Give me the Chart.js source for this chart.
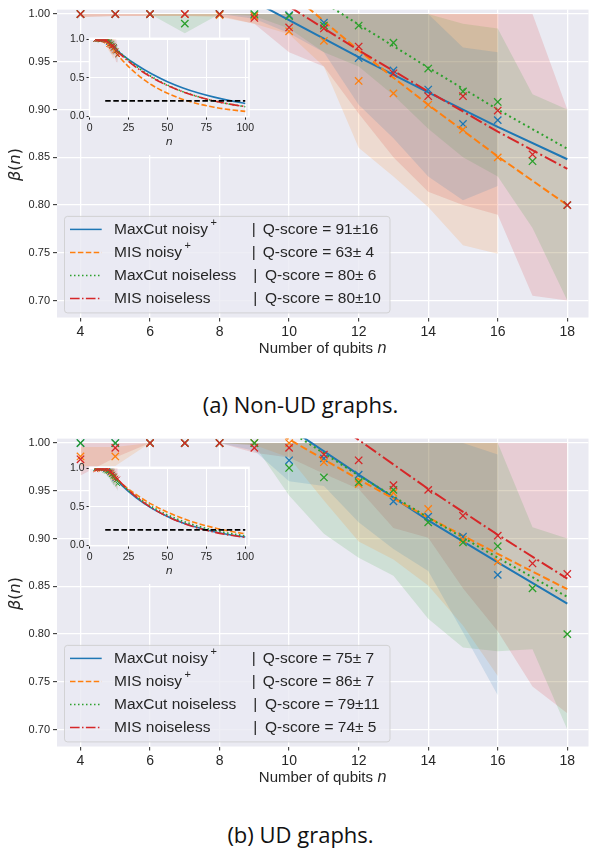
<!DOCTYPE html>
<html>
<head>
<meta charset="utf-8">
<script src="https://cdn.jsdelivr.net/npm/chart.js@4.4.1/dist/chart.umd.min.js"></script>
<style>
  html, body { margin: 0; padding: 0; background: #fff; }
  body { width: 595px; height: 848px; position: relative; overflow: hidden; }
  canvas { position: absolute; }
  .cap { position: absolute; left: 0; width: 601px; text-align: center; font-family: 'Open Sans', sans-serif;
         font-size: 22px; line-height: 30px; color: #111; }
</style>
</head>
<body>
<canvas id="mainA" width="595" height="370" style="left:0px;top:0px"></canvas>
<canvas id="insetA" width="225" height="130" style="left:40px;top:25px"></canvas>
<div class="cap" style="top:389px">(a) Non-UD graphs.</div>
<canvas id="mainB" width="595" height="370" style="left:0px;top:429px"></canvas>
<canvas id="insetB" width="225" height="130" style="left:40px;top:454px"></canvas>
<div class="cap" style="top:819px">(b) UD graphs.</div>
<script>
// ---- axis ticks ----
const xTicks = [4, 6, 8, 10, 12, 14, 16, 18];
const yTicks = [0.70, 0.75, 0.80, 0.85, 0.90, 0.95, 1.00];
const insetXTicks = [0, 25, 50, 75, 100];
const insetYTicks = [0.0, 0.5, 1.0];

// ---- legend ----
const seriesNames = ['MaxCut noisy', 'MIS noisy', 'MaxCut noiseless', 'MIS noiseless'];
const seriesSup = ['+', '+', '', ''];
const qScoresA = ['91\u00b116', '63\u00b1 4', '80\u00b1 6', '80\u00b110'];
const qScoresB = ['75\u00b1 7', '86\u00b1 7', '79\u00b111', '74\u00b1 5'];

// ---- qubit counts ----
const nNoisy = [4, 5, 6, 7, 8, 9, 10, 11, 12, 13, 14, 15, 16];
const nNoiseless = [4, 5, 6, 7, 8, 9, 10, 11, 12, 13, 14, 15, 16, 17, 18];

// ---- (a) Non-UD graphs ----
const aMaxCutNoisy   = [1.000, 1.000, 1.000, 1.000, 1.000, 0.999, 0.999, 0.991, 0.954, 0.941, 0.921, 0.885, 0.889];
const aMaxCutNoisyLo = [1.000, 1.000, 1.000, 1.000, 1.000, 0.995, 0.980, 0.960, 0.905, 0.870, 0.830, 0.805, 0.820];
const aMaxCutNoisyHi = [1.000, 1.000, 1.000, 1.000, 1.000, 1.000, 1.000, 1.000, 1.000, 1.000, 1.000, 0.965, 0.960];
const aMisNoisy      = [1.000, 1.000, 1.000, 1.000, 0.999, 0.998, 0.982, 0.972, 0.930, 0.917, 0.905, 0.879, 0.850];
const aMisNoisyLo    = [0.997, 0.998, 0.998, 0.998, 0.997, 0.990, 0.979, 0.945, 0.860, 0.830, 0.798, 0.758, 0.749];
const aMisNoisyHi    = [1.000, 1.000, 1.000, 1.000, 1.000, 1.000, 1.000, 1.000, 1.000, 1.000, 1.000, 1.000, 1.000];
const aMaxCutNoiseless   = [1.000, 1.000, 1.000, 0.990, 1.000, 1.000, 0.998, 0.988, 0.988, 0.970, 0.943, 0.919, 0.908, 0.846, 0.800];
const aMaxCutNoiselessLo = [1.000, 1.000, 1.000, 0.980, 1.000, 0.998, 0.985, 0.960, 0.945, 0.915, 0.880, 0.850, 0.830, 0.776, 0.700];
const aMaxCutNoiselessHi = [1.000, 1.000, 1.000, 1.000, 1.000, 1.000, 1.000, 1.000, 1.000, 1.000, 1.000, 0.990, 0.985, 0.916, 0.900];
const aMisNoiseless   = [1.000, 1.000, 1.000, 1.000, 1.000, 0.996, 0.986, 0.985, 0.966, 0.938, 0.914, 0.914, 0.899, 0.853, 0.800];
const aMisNoiselessLo = [0.997, 0.998, 0.998, 0.998, 0.998, 0.990, 0.960, 0.945, 0.896, 0.850, 0.814, 0.800, 0.790, 0.705, 0.700];
const aMisNoiselessHi = [1.000, 1.000, 1.000, 1.000, 1.000, 1.000, 1.000, 1.000, 1.000, 1.000, 1.000, 1.000, 1.000, 1.000, 0.900];

// fitted lines (main plot)
const aFitMaxCutNoisyN = [9.0, 12, 14, 16, 18];
const aFitMaxCutNoisy  = [1.013, 0.955, 0.918, 0.882, 0.848];
const aFitMisNoisyN = [10.3, 12, 14, 16, 18];
const aFitMisNoisy  = [1.014, 0.962, 0.905, 0.851, 0.800];
const aFitMaxCutNoiselessN = [11.0, 12, 14, 16, 18];
const aFitMaxCutNoiseless  = [1.012, 0.989, 0.944, 0.900, 0.859];
const aFitMisNoiselessN = [10.0, 12, 14, 16, 18];
const aFitMisNoiseless  = [1.008, 0.962, 0.919, 0.877, 0.838];

// extrapolated curves (inset)
const aCurveMaxCutNoisyN = [9.7, 20, 30, 40, 50, 60, 70, 80, 90, 100];
const aCurveMaxCutNoisy  = [1.000, 0.815, 0.669, 0.549, 0.450, 0.369, 0.303, 0.249, 0.204, 0.167];
const aCurveMisNoisyN = [10.8, 20, 30, 40, 50, 60, 70, 80, 90, 100];
const aCurveMisNoisy  = [1.000, 0.752, 0.553, 0.406, 0.299, 0.219, 0.161, 0.118, 0.087, 0.064];
const aCurveMaxCutNoiselessN = [11.5, 20, 30, 40, 50, 60, 70, 80, 90, 100];
const aCurveMaxCutNoiseless  = [1.000, 0.820, 0.648, 0.512, 0.405, 0.320, 0.253, 0.200, 0.158, 0.125];
const aCurveMisNoiselessN = [10.3, 20, 30, 40, 50, 60, 70, 80, 90, 100];
const aCurveMisNoiseless  = [1.000, 0.800, 0.635, 0.504, 0.400, 0.318, 0.252, 0.200, 0.159, 0.126];

// ---- (b) UD graphs ----
const bMaxCutNoisy   = [1.000, 1.000, 1.000, 1.000, 1.000, 1.000, 0.982, 0.984, 0.967, 0.939, 0.923, 0.902, 0.862];
const bMaxCutNoisyLo = [1.000, 1.000, 1.000, 1.000, 1.000, 0.992, 0.960, 0.955, 0.917, 0.889, 0.866, 0.802, 0.736];
const bMaxCutNoisyHi = [1.000, 1.000, 1.000, 1.000, 1.000, 1.000, 1.000, 1.000, 1.000, 1.000, 1.000, 1.000, 0.988];
const bMisNoisy      = [0.986, 0.986, 1.000, 1.000, 1.000, 1.000, 1.000, 0.980, 0.957, 0.948, 0.931, 0.899, 0.876];
const bMisNoisyLo    = [0.976, 0.976, 1.000, 1.000, 1.000, 0.998, 0.985, 0.940, 0.897, 0.878, 0.851, 0.809, 0.756];
const bMisNoisyHi    = [0.996, 0.996, 1.000, 1.000, 1.000, 1.000, 1.000, 1.000, 1.000, 1.000, 1.000, 1.000, 1.000];
const bMaxCutNoiseless   = [1.000, 1.000, 1.000, 1.000, 1.000, 1.000, 0.974, 0.964, 0.959, 0.951, 0.917, 0.896, 0.892, 0.848, 0.800];
const bMaxCutNoiselessLo = [1.000, 1.000, 1.000, 1.000, 1.000, 0.998, 0.945, 0.905, 0.880, 0.861, 0.816, 0.786, 0.782, 0.784, 0.700];
const bMaxCutNoiselessHi = [1.000, 1.000, 1.000, 1.000, 1.000, 1.000, 1.000, 1.000, 1.000, 1.000, 1.000, 1.000, 1.000, 0.912, 0.900];
const bMisNoiseless   = [0.983, 0.995, 1.000, 1.000, 1.000, 0.995, 0.995, 0.988, 0.982, 0.956, 0.951, 0.924, 0.903, 0.874, 0.863];
const bMisNoiselessLo = [0.966, 0.985, 1.000, 1.000, 1.000, 0.990, 0.985, 0.968, 0.952, 0.911, 0.901, 0.848, 0.803, 0.745, 0.717];
const bMisNoiselessHi = [1.000, 1.000, 1.000, 1.000, 1.000, 1.000, 1.000, 1.000, 1.000, 1.000, 1.000, 1.000, 1.000, 1.000, 1.000];

const bFitMaxCutNoisyN = [10.2, 12, 14, 16, 18];
const bFitMaxCutNoisy  = [1.011, 0.967, 0.919, 0.875, 0.832];
const bFitMisNoisyN = [9.8, 12, 14, 16, 18];
const bFitMisNoisy  = [1.008, 0.962, 0.922, 0.884, 0.847];
const bFitMaxCutNoiselessN = [10.2, 12, 14, 16, 18];
const bFitMaxCutNoiseless  = [1.008, 0.966, 0.922, 0.880, 0.839];
const bFitMisNoiselessN = [11.7, 14, 16, 18];
const bFitMisNoiseless  = [1.011, 0.952, 0.904, 0.858];

const bCurveMaxCutNoisyN = [10.6, 20, 30, 40, 50, 60, 70, 80, 90, 100];
const bCurveMaxCutNoisy  = [1.000, 0.791, 0.616, 0.480, 0.374, 0.291, 0.227, 0.177, 0.138, 0.107];
const bCurveMisNoisyN = [10.2, 20, 30, 40, 50, 60, 70, 80, 90, 100];
const bCurveMisNoisy  = [1.000, 0.812, 0.657, 0.531, 0.430, 0.348, 0.281, 0.228, 0.184, 0.149];
const bCurveMaxCutNoiselessN = [10.6, 20, 30, 40, 50, 60, 70, 80, 90, 100];
const bCurveMaxCutNoiseless  = [1.000, 0.801, 0.633, 0.500, 0.396, 0.313, 0.247, 0.196, 0.155, 0.122];
const bCurveMisNoiselessN = [12.1, 20, 30, 40, 50, 60, 70, 80, 90, 100];
const bCurveMisNoiseless  = [1.000, 0.815, 0.628, 0.484, 0.374, 0.288, 0.222, 0.171, 0.132, 0.102];

// Q-score threshold
const thresholdN = [10, 100];
const thresholdBeta = [0.2, 0.2];

// ---- styles ----
const colors = ['#1f77b4', '#ff7f0e', '#2ca02c', '#d62728'];
const dashMain = [[], [7.4, 3.2], [2, 3.3], [12.8, 3.2, 2, 3.2]];
const dashSmall = [[], [5.5, 2.4], [1.5, 2.5], [9.6, 2.4, 1.5, 2.4]];
const BG = '#EAEAF2';
const TXT = '#262626';
const SANS = '"Liberation Sans", Arial, sans-serif';
const MATH = '"DejaVu Sans", sans-serif';

function rgba(hex, a) {
    const v = parseInt(hex.slice(1), 16);
    return 'rgba(' + (v >> 16) + ',' + ((v >> 8) & 255) + ',' + (v & 255) + ',' + a + ')';
}
function pts(xs, ys) {
    return xs.map((x, i) => ({ x: x, y: ys[i] }));
}

const panelA = {
    n: [nNoisy, nNoisy, nNoiseless, nNoiseless],
    val: [aMaxCutNoisy, aMisNoisy, aMaxCutNoiseless, aMisNoiseless],
    lo: [aMaxCutNoisyLo, aMisNoisyLo, aMaxCutNoiselessLo, aMisNoiselessLo],
    hi: [aMaxCutNoisyHi, aMisNoisyHi, aMaxCutNoiselessHi, aMisNoiselessHi],
    fitN: [aFitMaxCutNoisyN, aFitMisNoisyN, aFitMaxCutNoiselessN, aFitMisNoiselessN],
    fit: [aFitMaxCutNoisy, aFitMisNoisy, aFitMaxCutNoiseless, aFitMisNoiseless],
    curveN: [aCurveMaxCutNoisyN, aCurveMisNoisyN, aCurveMaxCutNoiselessN, aCurveMisNoiselessN],
    curve: [aCurveMaxCutNoisy, aCurveMisNoisy, aCurveMaxCutNoiseless, aCurveMisNoiseless],
    q: qScoresA
};
const panelB = {
    n: [nNoisy, nNoisy, nNoiseless, nNoiseless],
    val: [bMaxCutNoisy, bMisNoisy, bMaxCutNoiseless, bMisNoiseless],
    lo: [bMaxCutNoisyLo, bMisNoisyLo, bMaxCutNoiselessLo, bMisNoiselessLo],
    hi: [bMaxCutNoisyHi, bMisNoisyHi, bMaxCutNoiselessHi, bMisNoiselessHi],
    fitN: [bFitMaxCutNoisyN, bFitMisNoisyN, bFitMaxCutNoiselessN, bFitMisNoiselessN],
    fit: [bFitMaxCutNoisy, bFitMisNoisy, bFitMaxCutNoiseless, bFitMisNoiseless],
    curveN: [bCurveMaxCutNoisyN, bCurveMisNoisyN, bCurveMaxCutNoiselessN, bCurveMisNoiselessN],
    curve: [bCurveMaxCutNoisy, bCurveMisNoisy, bCurveMaxCutNoiseless, bCurveMisNoiseless],
    q: qScoresB
};

// bands + markers, shared by main plot and inset
function bandAndMarkerSets(p, radius, pw) {
    const sets = [];
    for (let i = 0; i < 4; i++) {
        sets.push({ data: pts(p.n[i], p.lo[i]), borderColor: 'transparent', borderWidth: 0,
                    pointRadius: 0, fill: false, order: 40 + i });
        sets.push({ data: pts(p.n[i], p.hi[i]), borderColor: 'transparent', borderWidth: 0,
                    pointRadius: 0, fill: '-1', backgroundColor: rgba(colors[i], 0.15), order: 40 + i });
    }
    for (let i = 0; i < 4; i++) {
        sets.push({ data: pts(p.n[i], p.val[i]), showLine: false, pointStyle: 'crossRot',
                    pointRadius: radius, pointHoverRadius: radius, pointBorderWidth: pw,
                    pointBorderColor: colors[i], pointBackgroundColor: colors[i], order: 13 - i });
    }
    return sets;
}

function drawParts(ctx, parts, x, y) {
    let total = 0;
    const widths = parts.map(pt => { ctx.font = pt[1]; const w = ctx.measureText(pt[0]).width; total += w; return w; });
    let cx = x - total / 2;
    parts.forEach((pt, i) => { ctx.font = pt[1]; ctx.fillText(pt[0], cx, y); cx += widths[i]; });
}

function mainDecor(p) {
    return {
        id: 'mainDecor',
        beforeDraw(chart) {
            const a = chart.chartArea, ctx = chart.ctx;
            ctx.save();
            ctx.fillStyle = BG;
            ctx.fillRect(a.left, a.top, a.right - a.left, a.bottom - a.top);
            ctx.restore();
        },
        afterDraw(chart) {
            const a = chart.chartArea, ctx = chart.ctx;
            ctx.save();
            ctx.fillStyle = TXT;
            ctx.textBaseline = 'middle';
            ctx.textAlign = 'left';
            // x title
            drawParts(ctx, [['Number of qubits ', '15px ' + SANS], ['n', 'italic 15px ' + MATH]],
                      (a.left + a.right) / 2, a.bottom + 31.5);
            // y title
            ctx.save();
            ctx.translate(15.8, (a.top + a.bottom) / 2 + 1);
            ctx.rotate(-Math.PI / 2);
            drawParts(ctx, [['\u03b2', 'italic 16px ' + MATH], ['(', '16px ' + MATH],
                            ['n', 'italic 16px ' + MATH], [')', '16px ' + MATH]], 0, 0);
            ctx.restore();
            // legend
            const bx = 64.5, by = a.top + 206.8, bw = 325.5, bh = 96.5;
            ctx.beginPath();
            ctx.roundRect(bx, by, bw, bh, 3);
            ctx.fillStyle = 'rgba(234,234,242,0.8)';
            ctx.fill();
            ctx.strokeStyle = 'rgba(204,204,204,0.8)';
            ctx.lineWidth = 1;
            ctx.stroke();
            const barX = [251.7, 251.7, 253.3, 253.3];
            const qX = [262.7, 262.7, 265, 265];
            for (let i = 0; i < 4; i++) {
                const y = a.top + 219.8 + i * 23;
                ctx.beginPath();
                ctx.setLineDash(dashSmall[i]);
                ctx.strokeStyle = colors[i];
                ctx.lineWidth = 1.5;
                ctx.moveTo(70, y);
                ctx.lineTo(101.7, y);
                ctx.stroke();
                ctx.setLineDash([]);
                ctx.fillStyle = TXT;
                ctx.font = '15.5px ' + SANS;
                ctx.fillText(seriesNames[i], 114, y);
                const w = ctx.measureText(seriesNames[i]).width;
                ctx.fillText('|', barX[i], y);
                ctx.fillText('Q-score = ' + p.q[i], qX[i], y);
                if (seriesSup[i]) {
                    ctx.font = '11px ' + SANS;
                    ctx.fillText(seriesSup[i], 114 + w + 2.5, y - 6);
                }
            }
            ctx.restore();
        }
    };
}

const insetDecor = {
    id: 'insetDecor',
    beforeDraw(chart) {
        const a = chart.chartArea, ctx = chart.ctx;
        ctx.save();
        ctx.fillStyle = BG;
        ctx.fillRect(a.left, a.top, a.right - a.left, chart.height - a.top);
        ctx.restore();
    },
    afterDatasetsDraw(chart) {
        const a = chart.chartArea, ctx = chart.ctx;
        ctx.save();
        ctx.strokeStyle = '#fff';
        ctx.lineWidth = 1.5;
        ctx.strokeRect(a.left, a.top, a.right - a.left, a.bottom - a.top);
        ctx.restore();
    }
};

function mainChart(id, p) {
    const sets = bandAndMarkerSets(p, 5.2, 1.3);
    for (let i = 0; i < 4; i++) {
        sets.push({ data: pts(p.fitN[i], p.fit[i]), borderColor: colors[i], borderWidth: 2,
                    borderDash: dashMain[i], pointRadius: 0, fill: false, tension: 0, order: 23 - i });
    }
    return new Chart(document.getElementById(id), {
        type: 'line',
        data: { datasets: sets },
        options: {
            responsive: false,
            animation: false,
            events: [],
            layout: { padding: { top: 7, right: 0, bottom: 0, left: 0 } },
            plugins: { legend: { display: false }, tooltip: { enabled: false } },
            scales: {
                x: {
                    type: 'linear', min: 3.324, max: 18.61,
                    afterBuildTicks: s => { s.ticks = xTicks.map(v => ({ value: v })); },
                    afterFit: s => { s.height = 52.5; },
                    grid: { color: '#fff', lineWidth: 1.3, tickColor: TXT, tickLength: 4, tickWidth: 1 },
                    border: { display: false },
                    ticks: { color: TXT, font: { family: SANS, size: 14 }, padding: 2, maxRotation: 0, autoSkip: false }
                },
                y: {
                    type: 'linear', min: 0.6823, max: 1.0047,
                    afterBuildTicks: s => { s.ticks = yTicks.map(v => ({ value: v })); },
                    afterFit: s => { s.width = 57; },
                    grid: { color: '#fff', lineWidth: 1.3, tickColor: TXT, tickLength: 4, tickWidth: 1 },
                    border: { display: false },
                    ticks: { color: TXT, font: { family: SANS, size: 11 }, padding: 3,
                             callback: v => v.toFixed(2) }
                }
            }
        },
        plugins: [mainDecor(p)]
    });
}

function insetChart(id, p) {
    const sets = bandAndMarkerSets(p, 3.2, 1);
    for (let i = 0; i < 4; i++) {
        sets.push({ data: pts(p.curveN[i], p.curve[i]), borderColor: colors[i], borderWidth: 1.6,
                    borderDash: dashSmall[i], pointRadius: 0, fill: false,
                    cubicInterpolationMode: 'monotone', order: 23 - i });
    }
    sets.push({ data: pts(thresholdN, thresholdBeta), borderColor: '#000', borderWidth: 1.8,
                borderDash: [5.5, 2.6], pointRadius: 0, fill: false, order: 15 });
    return new Chart(document.getElementById(id), {
        type: 'line',
        data: { datasets: sets },
        options: {
            responsive: false,
            animation: false,
            events: [],
            layout: { padding: { top: 13.3, right: 16, bottom: 0, left: 0 } },
            plugins: { legend: { display: false }, tooltip: { enabled: false } },
            scales: {
                x: {
                    type: 'linear', min: -0.1, max: 102.4,
                    afterBuildTicks: s => { s.ticks = insetXTicks.map(v => ({ value: v })); },
                    afterFit: s => { s.height = 38.3; },
                    grid: { color: '#fff', lineWidth: 1, tickColor: TXT, tickLength: 3, tickWidth: 1 },
                    border: { display: false },
                    ticks: { color: TXT, font: { family: SANS, size: 10.5 }, padding: 2.3, maxRotation: 0, autoSkip: false },
                    title: { display: true, text: 'n', color: TXT, font: { family: MATH, size: 11, style: 'italic' },
                             padding: { top: 0, bottom: 6.4 } }
                },
                y: {
                    type: 'linear', min: -0.005, max: 1.013,
                    afterBuildTicks: s => { s.ticks = insetYTicks.map(v => ({ value: v })); },
                    afterFit: s => { s.width = 49.5; },
                    grid: { color: '#fff', lineWidth: 1, tickColor: TXT, tickLength: 3, tickWidth: 1 },
                    border: { display: false },
                    ticks: { color: TXT, font: { family: SANS, size: 10.5 }, padding: 2,
                             callback: v => v.toFixed(1) }
                }
            }
        },
        plugins: [insetDecor]
    });
}

mainChart('mainA', panelA);
insetChart('insetA', panelA);
mainChart('mainB', panelB);
insetChart('insetB', panelB);
</script>
</body>
</html>
